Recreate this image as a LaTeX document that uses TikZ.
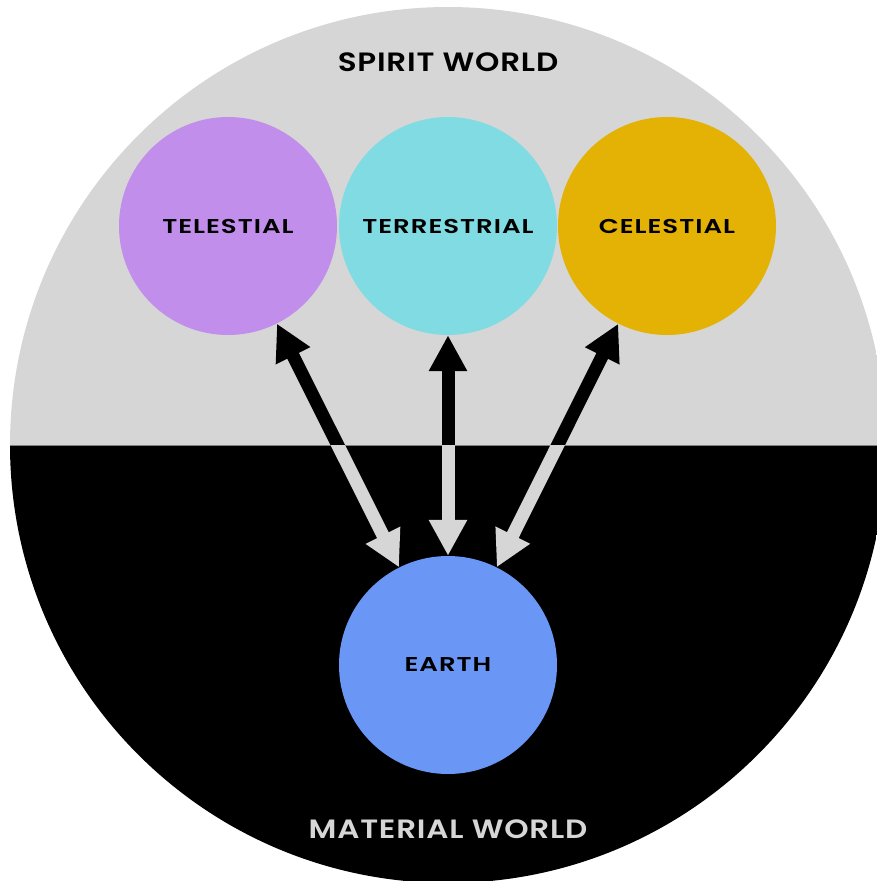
\documentclass[tikz,border=0pt]{standalone}
\usepackage{fontspec}
\setmainfont{Poppins}
\newfontfamily\labfont{Poppins}[UprightFont={* SemiBold}, FakeStretch=1.3, LetterSpace=5]
\newfontfamily\worldfont{Poppins}[UprightFont={* SemiBold}, FakeStretch=1.17, LetterSpace=3]
\usetikzlibrary{arrows.meta}
\definecolor{spiritgray}{HTML}{D6D6D6}
\definecolor{telc}{HTML}{C28EEB}
\definecolor{terc}{HTML}{80DCE2}
\definecolor{celc}{HTML}{E3B205}
\definecolor{earc}{HTML}{6A97F5}
\tikzset{
  realm/.style={circle, minimum size=218pt, inner sep=0pt, font=\labfont\fontsize{20}{20}\selectfont},
  link/.style={line width=13pt, {Triangle[width=36pt,length=36pt]}-{Triangle[width=36pt,length=36pt]}},
  worldlabel/.style={font=\worldfont\fontsize{26.5}{26.5}\selectfont, inner sep=0pt}
}
\begin{document}
\begin{tikzpicture}[x=1pt,y=-1pt]
\useasboundingbox (0,0) rectangle (876,881);
\begin{scope}
  \clip (448,445) circle (438);
  \fill[spiritgray] (0,0) rectangle (900,445);
  \fill[black] (0,445) rectangle (900,900);
  \draw[gray, line width=1pt] (0,445) -- (900,445);
\end{scope}
\node[realm, fill=telc] (tel) at (228,226) {TELESTIAL};
\node[realm, fill=terc] (ter) at (448,226) {TERRESTRIAL};
\node[realm, fill=celc] (cel) at (667,226) {CELESTIAL};
\node[realm, fill=earc] (ear) at (448,665) {EARTH};
\node[worldlabel, text=black] (spirit) at (448,62) {SPIRIT WORLD};
\node[worldlabel, text=spiritgray] (material) at (448,829) {MATERIAL WORLD};
\draw[link, black] (tel) -- (ear);
\draw[link, black] (ter) -- (ear);
\draw[link, black] (cel) -- (ear);
\begin{scope}
  \clip (0,445.5) rectangle (876,881);
  \draw[link, spiritgray] (tel) -- (ear);
  \draw[link, spiritgray] (ter) -- (ear);
  \draw[link, spiritgray] (cel) -- (ear);
\end{scope}
\end{tikzpicture}
\end{document}
